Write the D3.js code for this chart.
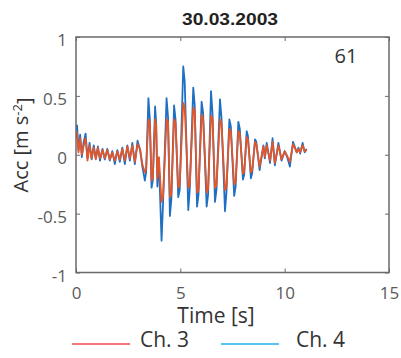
<!DOCTYPE html>
<html><head><meta charset="utf-8">
<script src="https://cdn.jsdelivr.net/npm/d3@7"></script>
<style>
html,body{margin:0;padding:0;background:#fff;}
text{font-family:"Open Sans","Noto Sans",sans-serif;}
</style></head>
<body><svg id="c" width="401" height="358"></svg>
<script>
// ---- data ----
const time = [0.00,0.05,0.12,0.20,0.28,0.36,0.46,0.55,0.65,0.75,0.85,0.95,1.05,1.15,1.27,1.38,1.50,1.62,1.74,1.86,1.98,2.10,2.22,2.34,2.46,2.58,2.70,2.82,2.95,3.07,3.18,
  3.30,3.36,3.47,3.54,3.62,3.68,3.79,3.84,3.90,3.97,4.10,4.17,4.34,4.41,4.50,4.57,4.70,4.77,4.90,4.97,5.14,5.21,5.38,5.45,5.62,5.69,5.80,5.87,6.02,6.09,6.26,6.33,6.47,6.54,6.66,6.73,6.90,6.97,7.14,7.21,7.35,7.42,7.58,7.65,7.78,7.85,8.00,8.06,8.18,8.24,8.38,8.44,8.58,8.64,8.80,
  8.98,9.05,9.14,9.30,9.42,9.53,9.70,9.85,10.00,10.12,10.25,10.40,10.58,10.66,10.74,10.86,10.96,11.05];
const ch4 = [0.20,0.25,0.04,0.17,-0.02,0.10,0.18,-0.03,0.10,-0.04,0.08,-0.03,0.07,-0.05,0.05,-0.04,0.05,-0.05,0.03,-0.08,0.04,-0.06,0.06,-0.08,0.08,-0.05,0.10,-0.08,0.12,0.04,-0.10,
  -0.22,-0.15,0.48,0.30,-0.28,-0.22,0.41,0.28,-0.27,-0.03,-0.73,-0.42,0.48,0.32,-0.52,-0.38,0.42,0.30,-0.36,-0.30,0.75,0.62,-0.47,-0.30,0.57,0.42,-0.44,-0.34,0.45,0.36,-0.44,-0.34,0.54,0.36,-0.40,-0.30,0.47,0.32,-0.48,-0.32,0.30,0.24,-0.35,-0.27,0.28,0.22,-0.21,-0.17,0.20,0.16,-0.20,-0.16,0.13,0.11,-0.13,
  0.08,-0.03,0.10,-0.07,0.14,-0.09,0.10,-0.05,0.03,-0.02,-0.10,0.11,0.02,0.06,0.01,0.10,0.02,0.05];
const ch3 = [0.14,0.19,0.02,0.14,0.00,0.07,0.14,-0.05,0.08,-0.03,0.06,-0.04,0.06,-0.03,0.04,-0.03,0.04,-0.04,0.02,-0.05,0.03,-0.04,0.05,-0.05,0.07,-0.03,0.08,-0.06,0.09,0.05,-0.08,
  -0.15,-0.12,0.30,0.27,-0.22,-0.20,0.30,0.25,-0.20,-0.02,-0.40,-0.36,0.30,0.28,-0.36,-0.33,0.30,0.27,-0.28,-0.25,0.44,0.40,-0.28,-0.26,0.40,0.37,-0.32,-0.30,0.34,0.31,-0.32,-0.29,0.33,0.31,-0.28,-0.26,0.30,0.27,-0.30,-0.27,0.22,0.20,-0.25,-0.23,0.20,0.18,-0.16,-0.14,0.15,0.13,-0.15,-0.13,0.11,0.09,-0.10,
  0.07,-0.02,0.08,-0.05,0.11,-0.07,0.08,-0.04,0.03,-0.01,-0.06,0.09,0.02,0.05,0.02,0.08,0.03,0.04];
const xTicks = [0,5,10,15];
const yTicks = [-1,-0.5,0,0.5,1];
const yTickLabels = ["-1","-0.5","0","0.5","1"];
const titleText = "30.03.2003";
const eventLabel = "61";
const seriesNames = ["Ch. 3","Ch. 4"];

// ---- chart ----
const svg = d3.select("#c");
const L=76, R=389, T=37, B=272.5;
const x = d3.scaleLinear().domain([0,15]).range([L,R]);
const y = d3.scaleLinear().domain([-1,1]).range([B,T]);
const axisCol = "#6a6a6a", tickTxt = "#5a5a5a";

// data lines (clipped)
svg.append("clipPath").attr("id","cp").append("rect").attr("x",L).attr("y",T).attr("width",R-L).attr("height",B-T);
const g = svg.append("g").attr("clip-path","url(#cp)");
const line = d3.line().x((d,i)=>x(time[i])).y(d=>y(d));
g.append("path").datum(ch4).attr("d",line).attr("fill","none").attr("stroke","#1f6fc2").attr("stroke-width",1.8).attr("stroke-linejoin","round");
g.append("path").datum(ch3).attr("d",line).attr("fill","none").attr("stroke","#e2562a").attr("stroke-width",1.8).attr("stroke-linejoin","round");

// axes (ticks inward)
const xb = svg.append("g").attr("transform",`translate(0,${B})`)
  .call(d3.axisBottom(x).tickValues(xTicks).tickSizeInner(-4).tickSizeOuter(0).tickPadding(14).tickFormat(d3.format("d")));
const xt = svg.append("g").attr("transform",`translate(0,${T})`)
  .call(d3.axisTop(x).tickValues(xTicks).tickSizeInner(-4).tickSizeOuter(0).tickFormat(""));
const yl = svg.append("g").attr("transform",`translate(${L},0)`)
  .call(d3.axisLeft(y).tickValues(yTicks).tickSizeInner(-4).tickSizeOuter(0).tickPadding(9).tickFormat((d,i)=>yTickLabels[i]));
const yr = svg.append("g").attr("transform",`translate(${R},0)`)
  .call(d3.axisRight(y).tickValues(yTicks).tickSizeInner(-4).tickSizeOuter(0).tickFormat(""));
[xb,xt,yl,yr].forEach(a=>{
  a.select(".domain").remove();
  a.selectAll("line").attr("stroke",axisCol).attr("stroke-width",1);
  a.selectAll("text").attr("fill",tickTxt).style("font-size","17px").style("font-family","'Open Sans',sans-serif");
});
yl.selectAll("text").attr("dy","0.52em");
xb.selectAll("text").attr("dy","0.71em");

svg.append("rect").attr("x",L).attr("y",T).attr("width",R-L).attr("height",B-T)
  .attr("fill","none").attr("stroke",axisCol).attr("stroke-width",1.5);

// title
svg.append("text").attr("x",230).attr("y",25).attr("text-anchor","middle")
  .attr("textLength",96).attr("lengthAdjust","spacingAndGlyphs")
  .style("font-family","'Liberation Sans',Arial,sans-serif").style("font-weight","bold").style("font-size","16px")
  .attr("fill","#222").text(titleText);

// event number
svg.append("text").attr("x",346).attr("y",63).attr("text-anchor","middle")
  .style("font-size","20px").attr("fill","#333").text(eventLabel);

// x label
svg.append("text").attr("x",216).attr("y",323).attr("text-anchor","middle")
  .style("font-size","21px").attr("fill","#333").text("Time [s]");

// y label
const ylab = svg.append("text").attr("transform","translate(28,145) rotate(-90)").attr("text-anchor","middle")
  .style("font-size","20px").attr("fill","#333");
ylab.append("tspan").text("Acc [m s");
ylab.append("tspan").attr("dy","-0.45em").style("font-size","13px").text("-2");
ylab.append("tspan").attr("dy","0.45em").text("]");

// legend
const leg = [{c:"#f04a4a",x1:72,x2:130,tx:140},{c:"#22b1ee",x1:221,x2:279,tx:296}];
leg.forEach((d,i)=>{
  svg.append("line").attr("x1",d.x1).attr("x2",d.x2).attr("y1",344).attr("y2",344).attr("stroke",d.c).attr("stroke-width",1.5);
  svg.append("text").attr("x",d.tx).attr("y",347).style("font-size","21px").attr("fill","#333").text(seriesNames[i]);
});
</script></body></html>
